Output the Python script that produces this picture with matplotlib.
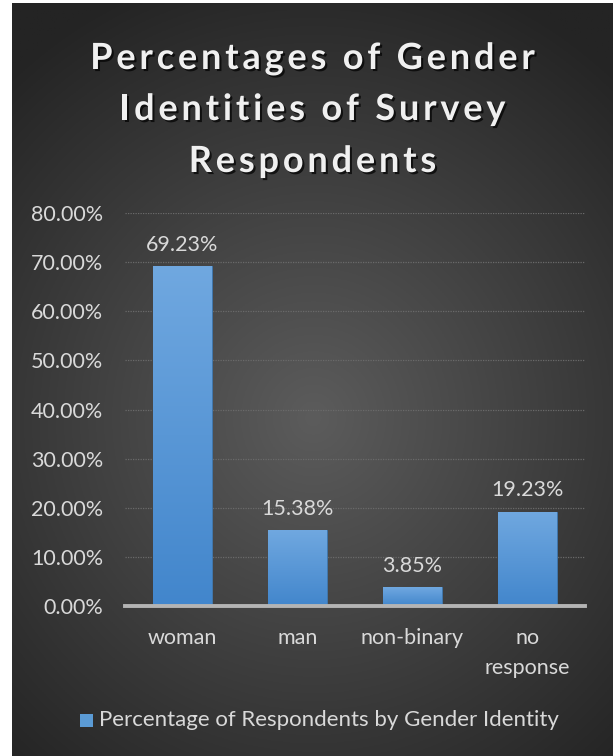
import numpy as np
import matplotlib
matplotlib.use("Agg")
import matplotlib.pyplot as plt
import matplotlib.patheffects as pe
from matplotlib.patches import Rectangle
from matplotlib.ticker import FuncFormatter, MultipleLocator
from matplotlib.font_manager import FontProperties, findfont, get_font

categories = ["woman", "man", "non-binary", "no\nresponse"]
percentages = [69.23, 15.38, 3.85, 19.23]
label_texts = ["69.23%", "15.38%", "3.85%", "19.23%"]
title_lines = ["Percentages of Gender", "Identities of Survey", "Respondents"]
legend_text = "Percentage of Respondents by Gender Identity"

plt.rcParams["font.family"] = ["Lato", "DejaVu Sans"]

W, H, DPI = 613, 756, 100
fig = plt.figure(figsize=(W / DPI, H / DPI), dpi=DPI, facecolor="white")

# dark panel with a soft radial glow
bg = fig.add_axes([12 / W, 0, 601 / W, 753 / H])
bg.set_axis_off()
ny, nx = 400, 320
yy, xx = np.mgrid[0:ny, 0:nx]
cx, cy = nx * 0.5, ny * 0.55
r = np.sqrt(((xx - cx) / (nx * 0.75)) ** 2 + ((yy - cy) / (ny * 0.62)) ** 2)
r = np.clip(r, 0, 1)
inner = np.array([92, 92, 92]) / 255
outer = np.array([36, 36, 36]) / 255
img = inner[None, None, :] * (1 - r[..., None]) + outer[None, None, :] * r[..., None]
bg.imshow(img, extent=[0, 1, 0, 1], aspect="auto", origin="upper")
bg.set_xlim(0, 1)
bg.set_ylim(0, 1)

# title, set letter by letter with extra tracking
title_size = 26
tracking = 3.8  # px between letters
tp = FontProperties(family="Lato", weight="bold", size=title_size)
tfont = get_font(findfont(tp))
tfont.set_size(title_size, DPI)


def advance(ch):
    g = tfont.load_char(ord(ch))
    return g.linearHoriAdvance / 65536.0


shadow = [pe.SimplePatchShadow(offset=(1.5, -1.5), shadow_rgbFace="black", alpha=0.7),
          pe.Normal()]
baselines = [69, 120, 172]
for line, base in zip(title_lines, baselines):
    advs = [advance(c) for c in line]
    total = sum(advs) + tracking * (len(line) - 1)
    px = W / 2 - total / 2 + 6
    for c, a in zip(line, advs):
        if c != " ":
            fig.text(px / W, 1 - base / H, c, ha="left", va="baseline",
                     fontproperties=tp, color="#f0f0f0", path_effects=shadow)
        px += a + tracking

ax = fig.add_axes([125 / W, 1 - 606 / H, 460 / W, 393 / H])
ax.set_facecolor("none")
x = np.arange(len(categories))
bar_w = 0.51
bars = ax.bar(x, percentages, width=bar_w, color="#5b9bd5", zorder=3,
              edgecolor="#3f78b0", linewidth=0.6)

# vertical gradient fill for each bar
grad = np.linspace(0, 1, 256)[:, None]
top_c = np.array([112, 168, 224]) / 255
bot_c = np.array([66, 134, 204]) / 255
gimg = top_c[None, None, :] * (1 - grad[..., None]) + bot_c[None, None, :] * grad[..., None]
gimg = np.repeat(gimg, 2, axis=1)
for b in bars:
    x0, y0 = b.get_x(), b.get_y()
    w, h = b.get_width(), b.get_height()
    im = ax.imshow(gimg, extent=[x0, x0 + w, y0, y0 + h], aspect="auto",
                   origin="upper", zorder=4)
    im.set_clip_path(b)

for xi, v, t in zip(x, percentages, label_texts):
    ax.annotate(t, (xi, v), xytext=(0, 8), textcoords="offset points",
                ha="center", va="bottom", fontsize=15.5, color="#d9d9d9", zorder=6)

ax.set_xlim(-0.5, len(categories) - 0.5)
ax.set_ylim(0, 80)
ax.yaxis.set_major_locator(MultipleLocator(10))
ax.yaxis.set_major_formatter(FuncFormatter(lambda v, p: f"{v:.2f}%"))
ax.grid(axis="y", color="#6a6a6a", linewidth=0.9, linestyle=(0, (1, 1)), zorder=1)
ax.set_axisbelow(True)
for s in ["top", "right", "left"]:
    ax.spines[s].set_visible(False)
ax.spines["bottom"].set_color("#b4b4b4")
ax.spines["bottom"].set_linewidth(2.8)
ax.spines["bottom"].set_zorder(5)
ax.set_xticks(x)
ax.set_xticklabels(categories, linespacing=1.6)
ax.tick_params(axis="both", length=0, colors="#d9d9d9", labelsize=15.5)
ax.tick_params(axis="x", pad=16)
ax.tick_params(axis="y", pad=15.5)

# legend
fig.patches.append(Rectangle((80 / W, 1 - 727 / H), 13 / W, 13 / H,
                             transform=fig.transFigure, facecolor="#5b9bd5",
                             edgecolor="none", zorder=10))
fig.text(99 / W, 1 - 720 / H, legend_text, ha="left", va="center",
         fontsize=16, color="#d9d9d9")

fig.savefig("out.png", dpi=DPI, facecolor="white")
